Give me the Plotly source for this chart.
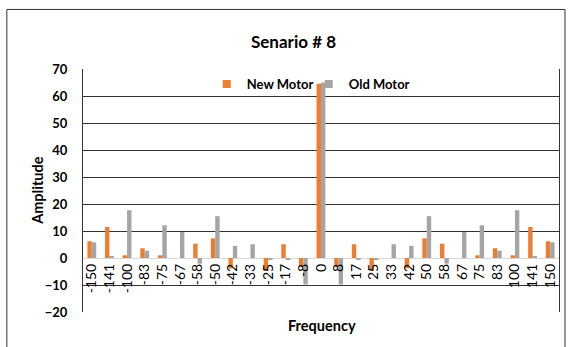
import plotly.graph_objects as go

# Frequency bins (category axis) and spectral amplitudes for both motors
frequency = ["-150", "-141", "-100", "-83", "-75", "-67", "-58", "-50", "-42", "-33",
             "-25", "-17", "-8", "0", "8", "17", "25", "33", "42", "50",
             "58", "67", "75", "83", "100", "141", "150"]
new_motor = [6.2, 11.5, 1.0, 3.6, 1.0, 0, 5.3, 7.3, -3.9, 0,
             -4.8, 5.1, -3.4, 64.5, -3.4, 5.1, -4.8, 0, -3.8, 7.3,
             5.3, 0, 1.0, 3.6, 1.0, 11.5, 6.2]
old_motor = [5.8, 0.4, 17.7, 2.7, 12.1, 9.6, -2.1, 15.5, 4.5, 5.1,
             -0.6, -0.5, -9.8, 65.0, -9.8, -0.5, -0.6, 5.1, 4.5, 15.5,
             -2.1, 9.6, 12.1, 2.7, 17.7, 0.4, 5.8]
series_names = ["New Motor", "Old Motor"]
series_colors = ["#ED7D31", "#A5A5A5"]
y_min, y_max = -20, 70

FONT = "Lato"
fig = go.Figure()

for name, vals, col in zip(series_names, [new_motor, old_motor], series_colors):
    fig.add_trace(go.Bar(x=frequency, y=vals, name=name, marker_color=col,
                         marker_line_width=0, showlegend=False, legendgroup=name))
    # small square legend key
    fig.add_trace(go.Scatter(x=[None], y=[None], mode="markers", name=name,
                             marker=dict(symbol="square", size=8, color=col),
                             legendgroup=name, showlegend=True))

fig.update_layout(
    width=571, height=347,
    margin=dict(l=83, r=12, t=69, b=35),
    plot_bgcolor="white", paper_bgcolor="white",
    barmode="group", bargap=0.5, bargroupgap=0,
    font=dict(family=FONT, color="black"),
    title=dict(text="Senario # 8", x=0.514, xanchor="center",
               y=1 - 42 / 347, yanchor="middle",
               font=dict(family=FONT, size=17, weight="bold", color="black")),
    legend=dict(orientation="h", x=0.26, xanchor="left", y=1.0, yanchor="top",
                bgcolor="rgba(0,0,0,0)", itemwidth=30, entrywidth=57,
                font=dict(family=FONT, size=13, weight="bold", color="black"),
                tracegroupgap=0),
    xaxis=dict(type="category", tickangle=-90, anchor="free",
               position=(0 - y_min) / (y_max - y_min),
               showgrid=False, showline=False, ticks="", ticklabelstandoff=2,
               tickfont=dict(family=FONT, size=14, color="black")),
    yaxis=dict(range=[y_min, y_max], dtick=10, showgrid=True,
               gridcolor="#333333", gridwidth=1,
               showline=True, mirror=True, linecolor="#333333", linewidth=1,
               zeroline=True, zerolinecolor="#D9D9D9", zerolinewidth=1,
               ticks="", ticklabelstandoff=12,
               tickfont=dict(family=FONT, size=13, weight="bold", color="black")),
)

fig.add_annotation(text="Amplitude", xref="paper", yref="paper",
                   x=-0.097, y=0.502, textangle=-90, showarrow=False,
                   xanchor="center", yanchor="middle",
                   font=dict(family=FONT, size=14.5, weight="bold", color="black"))
fig.add_annotation(text="Frequency", xref="paper", yref="paper",
                   x=0.502, y=-0.055, showarrow=False,
                   xanchor="center", yanchor="middle",
                   font=dict(family=FONT, size=14.5, weight="bold", color="black"))

# chart-area frame
fig.add_shape(type="rect", xref="paper", yref="paper",
              x0=-0.16, x1=1.0126, y0=-0.3, y1=1.245,
              line=dict(color="#333333", width=1), fillcolor="rgba(0,0,0,0)",
              layer="below")

fig.write_html("out.html")
